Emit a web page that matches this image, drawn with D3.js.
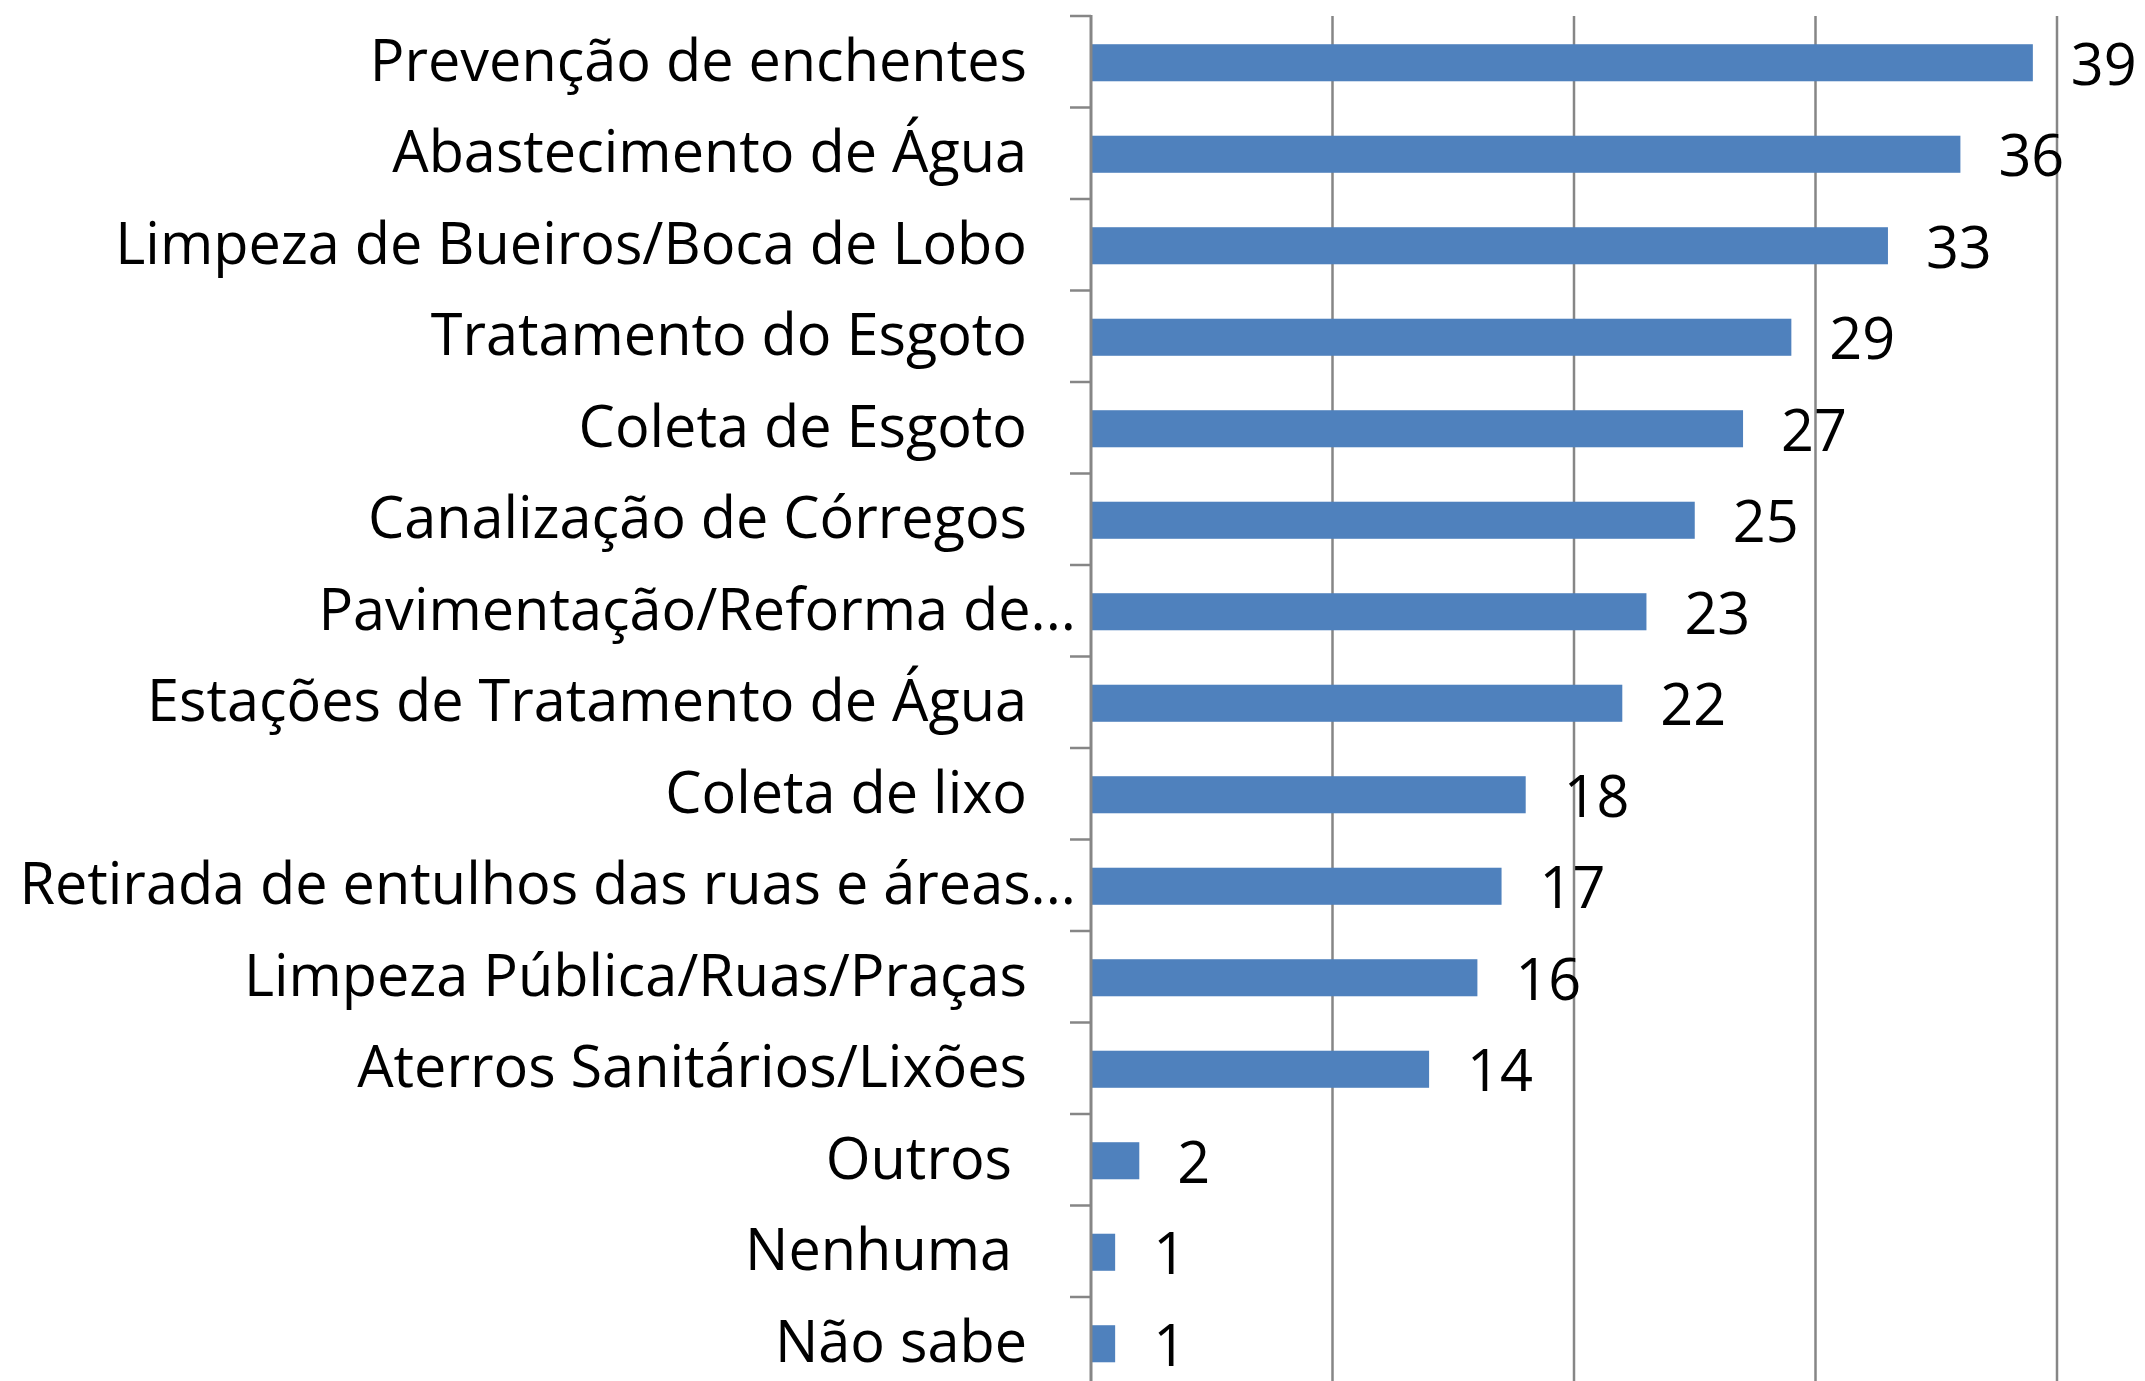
<!DOCTYPE html>
<html>
<head>
<meta charset="utf-8">
<script src="https://cdn.jsdelivr.net/npm/d3@7/dist/d3.min.js"></script>
<style>
  html, body { margin: 0; padding: 0; background: #ffffff; }
  svg { display: block; }
  text { font-family: "Open Sans", "Noto Sans", sans-serif; fill: #000000; white-space: pre; }
</style>
</head>
<body>
<svg id="chart" width="2145" height="1381"></svg>
<script>
// Categories (top to bottom) and their counts
const categories = [
  "Prevenção de enchentes",
  "Abastecimento de Água",
  "Limpeza de Bueiros/Boca de Lobo",
  "Tratamento do Esgoto",
  "Coleta de Esgoto",
  "Canalização de Córregos",
  "Pavimentação/Reforma de...",
  "Estações de Tratamento de Água",
  "Coleta de lixo",
  "Retirada de entulhos das ruas e áreas...",
  "Limpeza Pública/Ruas/Praças",
  "Aterros Sanitários/Lixões",
  "Outros ",
  "Nenhuma ",
  "Não sabe"
];
const values = [39, 36, 33, 29, 27, 25, 23, 22, 18, 17, 16, 14, 2, 1, 1];
const gridTicks = [10, 20, 30, 40];

const svg = d3.select("#chart");
const W = 2145, H = 1381;

const axisX = 1091;
const plotTop = 16;
const slot = 91.5;
const fontSize = 57.6;

const x = d3.scaleLinear().domain([0, 40]).range([axisX, 2057]);
const y = d3.scaleBand().domain(categories)
  .range([plotTop, plotTop + slot * categories.length]).padding(0);

const barH = y.bandwidth() * 0.405;
const gridColor = "#868686";

// vertical gridlines
svg.append("g").selectAll("line").data(gridTicks).join("line")
  .attr("x1", d => x(d)).attr("x2", d => x(d))
  .attr("y1", plotTop).attr("y2", H)
  .attr("stroke", gridColor).attr("stroke-width", 2.5);

// bars
svg.append("g").selectAll("rect").data(values).join("rect")
  .attr("x", x(0))
  .attr("y", (d, i) => y(categories[i]) + y.bandwidth() / 2 - barH / 2 + 1)
  .attr("width", d => x(d) - x(0))
  .attr("height", barH)
  .attr("fill", "#4F81BD");

// category axis line and ticks at slot boundaries
svg.append("line")
  .attr("x1", axisX).attr("x2", axisX)
  .attr("y1", plotTop - 1).attr("y2", H)
  .attr("stroke", gridColor).attr("stroke-width", 3);

const boundaries = categories.map(c => y(c)).concat([y.range()[1]]);
svg.append("g").selectAll("line").data(boundaries).join("line")
  .attr("x1", axisX - 21).attr("x2", axisX)
  .attr("y1", d => d).attr("y2", d => d)
  .attr("stroke", gridColor).attr("stroke-width", 2.5);

// category labels; truncated labels run up to the axis
svg.append("g").selectAll("text").data(categories).join("text")
  .attr("x", d => d.endsWith("...") ? axisX - 15 : axisX - 64)
  .attr("y", d => y(d) + y.bandwidth() / 2 + 19)
  .attr("text-anchor", "end")
  .attr("font-size", fontSize)
  .text(d => d);

// value labels
svg.append("g").selectAll("text").data(values).join("text")
  .attr("x", d => x(d) + 38)
  .attr("y", (d, i) => y(categories[i]) + y.bandwidth() / 2 + 23)
  .attr("text-anchor", "start")
  .attr("font-size", fontSize)
  .text(d => d);
</script>
</body>
</html>
